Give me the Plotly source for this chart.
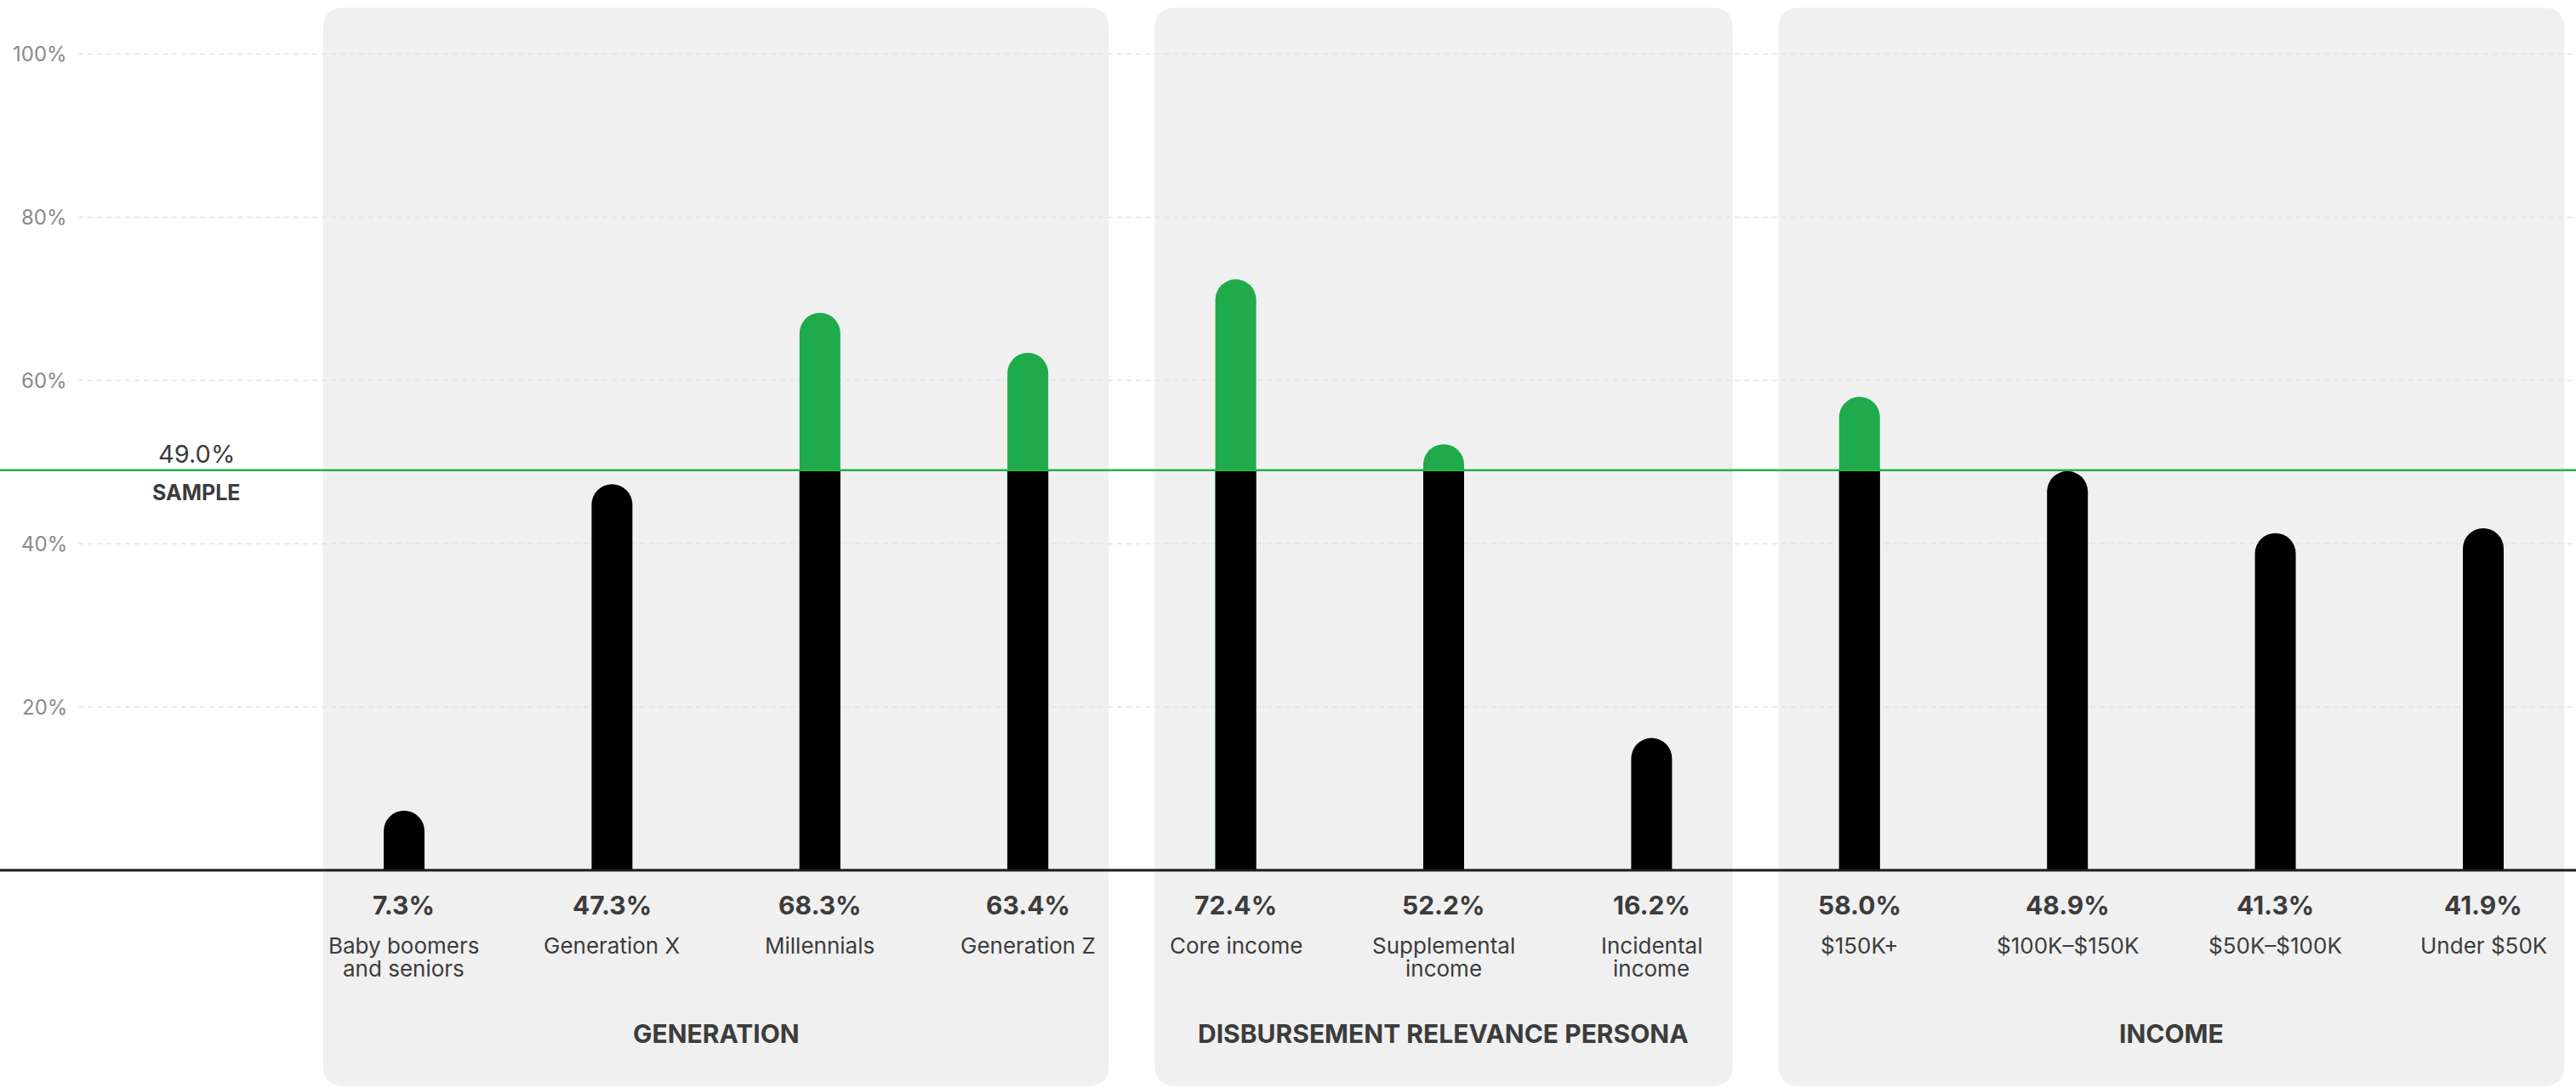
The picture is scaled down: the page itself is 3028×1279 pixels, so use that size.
import plotly.graph_objects as go

# ---------------- data ----------------
category_lines = [
    ["Baby boomers", "and seniors"],
    ["Generation X"],
    ["Millennials"],
    ["Generation Z"],
    ["Core income"],
    ["Supplemental", "income"],
    ["Incidental", "income"],
    ["$150K+"],
    ["$100K\u2013$150K"],
    ["$50K\u2013$100K"],
    ["Under $50K"],
]
values = [7.3, 47.3, 68.3, 63.4, 72.4, 52.2, 16.2, 58.0, 48.9, 41.3, 41.9]
group_names = ["GENERATION", "DISBURSEMENT RELEVANCE PERSONA", "INCOME"]
group_first = [0, 4, 7]
group_last = [3, 6, 10]
sample_value = 49.0
sample_label = "SAMPLE"
ytick_vals = [20, 40, 60, 80, 100]
ytick_text = ["20%", "40%", "60%", "80%", "100%"]

# ---------------- style ----------------
W, H = 3028, 1279
FONT = "Inter"
GREEN = "#1fab4a"
LINE_GREEN = "#22b14c"
BLACK = "#000000"
PANEL = "#f0f0f0"
TEXT = "#3c3c3c"
TICK = "#8a8a8a"
GRID = "#e4e4e4"

X_RANGE = [-1.9435, 10.446]
Y_RANGE = [-26.68, 106.62]
px_x = W / (X_RANGE[1] - X_RANGE[0])
px_y = H / (Y_RANGE[1] - Y_RANGE[0])

BAR_W = 48 / px_x

fig = go.Figure()

# bars
above = [i for i, v in enumerate(values) if v > sample_value]
below = [i for i, v in enumerate(values) if v <= sample_value]
fig.add_trace(go.Bar(x=above, y=[values[i] for i in above], width=BAR_W,
                     marker=dict(color=GREEN, line=dict(width=0), cornerradius="50%"),
                     hoverinfo="skip"))
fig.add_trace(go.Bar(x=above, y=[sample_value for _ in above], width=BAR_W,
                     marker=dict(color=BLACK, line=dict(width=0)),
                     hoverinfo="skip"))
fig.add_trace(go.Bar(x=below, y=[values[i] for i in below], width=BAR_W,
                     marker=dict(color=BLACK, line=dict(width=0), cornerradius="50%"),
                     hoverinfo="skip"))

shapes = []
# rounded panels
pad = 0.39
rx = 25 / px_x
ry = 25 / px_y
y_top = 105.68
y_bot = -26.47
for g0, g1 in zip(group_first, group_last):
    x0 = g0 - pad
    x1 = g1 + pad
    path = (f"M {x0+rx},{y_top} L {x1-rx},{y_top} Q {x1},{y_top} {x1},{y_top-ry} "
            f"L {x1},{y_bot+ry} Q {x1},{y_bot} {x1-rx},{y_bot} "
            f"L {x0+rx},{y_bot} Q {x0},{y_bot} {x0},{y_bot+ry} "
            f"L {x0},{y_top-ry} Q {x0},{y_top} {x0+rx},{y_top} Z")
    shapes.append(dict(type="path", path=path, xref="x", yref="y",
                       fillcolor=PANEL, line=dict(width=0), layer="below"))

# gridlines
grid_x0 = (92 / px_x) + X_RANGE[0]
for v in ytick_vals:
    shapes.append(dict(type="line", xref="x", yref="y", x0=grid_x0, x1=X_RANGE[1],
                       y0=v, y1=v, line=dict(color=GRID, width=1.5, dash="6px,5px"),
                       layer="below"))

# baseline
shapes.append(dict(type="line", xref="paper", yref="y", x0=0, x1=1, y0=0, y1=0,
                   line=dict(color="#1a1a1a", width=3), layer="above"))
# sample line
shapes.append(dict(type="line", xref="paper", yref="y", x0=0, x1=1,
                   y0=sample_value, y1=sample_value,
                   line=dict(color=LINE_GREEN, width=2.5), layer="above"))

annotations = []
# y tick labels
tick_x = (81 / px_x) + X_RANGE[0]
for v, t in zip(ytick_vals, ytick_text):
    annotations.append(dict(x=tick_x, y=v, xref="x", yref="y", text=t,
                            showarrow=False, xanchor="right", yanchor="middle",
                            font=dict(family=FONT, size=24, color=TICK)))

# sample labels
annotations.append(dict(x=-1, y=sample_value, xref="x", yref="y",
                        text=f"{sample_value:.1f}%", showarrow=False,
                        xanchor="center", yanchor="middle", yshift=19,
                        font=dict(family=FONT, size=29, color=TEXT)))
annotations.append(dict(x=-1, y=sample_value, xref="x", yref="y",
                        text=sample_label, showarrow=False,
                        xanchor="center", yanchor="middle", yshift=-26,
                        font=dict(family=FONT, size=25, color=TEXT, weight=700)))

# value labels & category labels
val_y = -40.5 / px_y
line_y = [-88 / px_y, -115 / px_y]
for i, v in enumerate(values):
    annotations.append(dict(x=i, y=val_y, xref="x", yref="y", text=f"{v:.1f}%",
                            showarrow=False, xanchor="center", yanchor="middle",
                            font=dict(family=FONT, size=30, color=TEXT, weight=700)))
    for k, ln in enumerate(category_lines[i]):
        annotations.append(dict(x=i, y=line_y[k], xref="x", yref="y", text=ln,
                                showarrow=False, xanchor="center", yanchor="middle",
                                font=dict(family=FONT, size=26, color=TEXT)))

# group titles
title_y = -192 / px_y
for name, g0, g1 in zip(group_names, group_first, group_last):
    annotations.append(dict(x=(g0 + g1) / 2, y=title_y, xref="x", yref="y",
                            text=name, showarrow=False, xanchor="center",
                            yanchor="middle",
                            font=dict(family=FONT, size=30, color=TEXT, weight=700)))

fig.update_layout(
    width=W, height=H, autosize=False,
    margin=dict(l=0, r=0, t=0, b=0, pad=0),
    paper_bgcolor="white", plot_bgcolor="white",
    barmode="overlay", showlegend=False,
    xaxis=dict(range=X_RANGE, visible=False, fixedrange=True),
    yaxis=dict(range=Y_RANGE, visible=False, fixedrange=True),
    shapes=shapes, annotations=annotations,
)

fig.write_html("out.html", config={"displayModeBar": False})
